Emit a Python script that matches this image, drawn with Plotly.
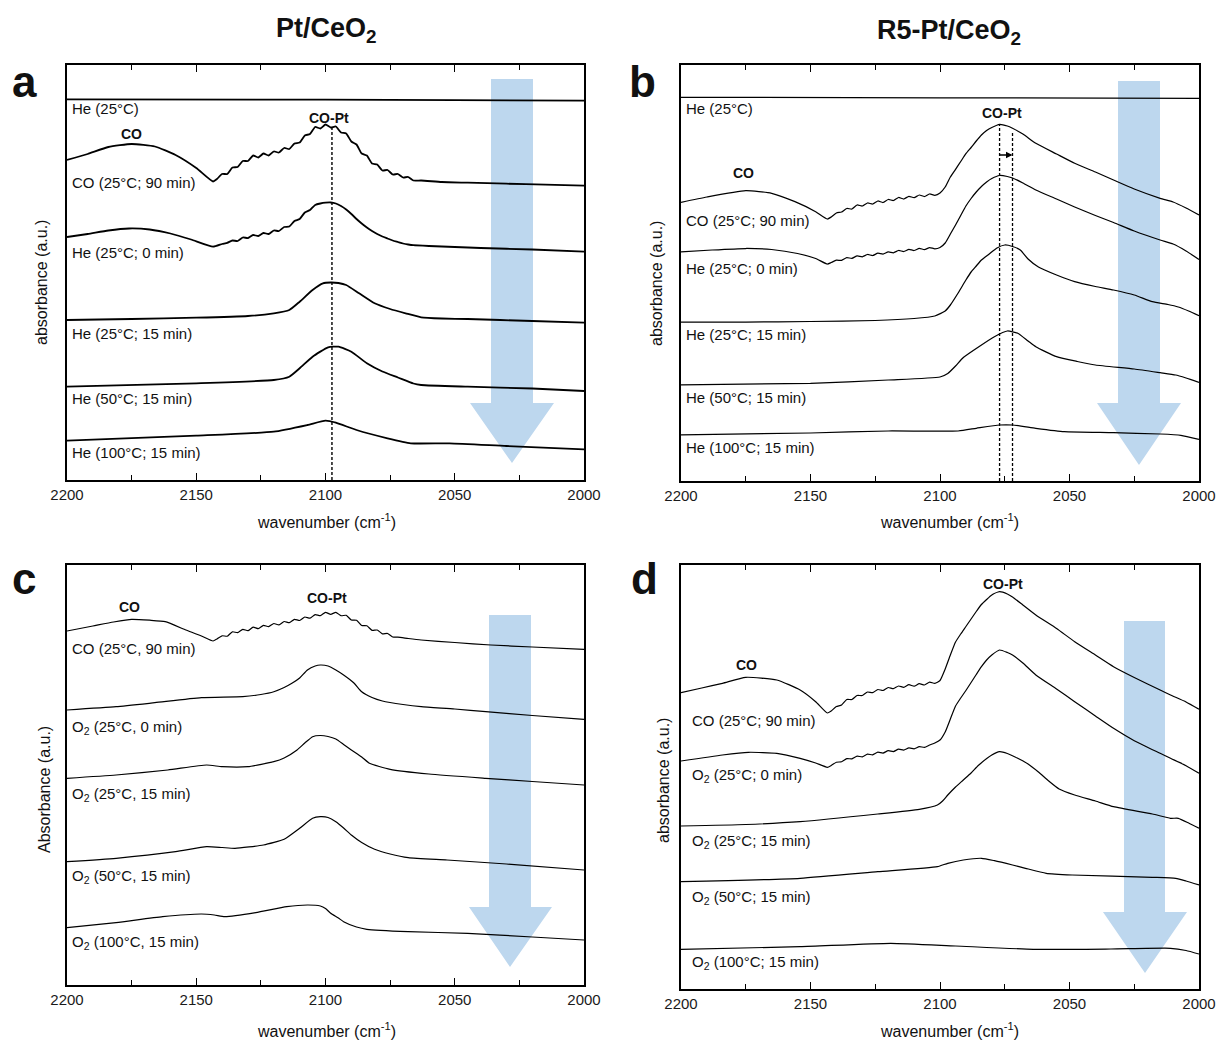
import plotly.graph_objects as go

W, H = 1218, 1040
FONT = "Liberation Sans, Arial, Helvetica, sans-serif"

# ---------------- data (wavenumber in cm-1, absorbance in a.u. incl. stacking offset) ----------------
WIG_A2 = list(range(2142, 2065, -2))
WIG_A3 = list(range(2136, 2065, -2))
WIG_B = list(range(2142, 2099, -2))
WIG_C1 = list(range(2142, 2071, -2))
WIG_D1 = list(range(2142, 2101, -2))
WIG_D2 = list(range(2142, 2105, -2))

# panel a : Pt/CeO2, He purge
A_LABELS = ["He (25°C)", "CO (25°C; 90 min)", "He (25°C; 0 min)",
            "He (25°C; 15 min)", "He (50°C; 15 min)", "He (100°C; 15 min)"]
A1_WN = [2200, 2100, 2050, 2000]
A1_Y = [900.7, 900.3, 899.8, 899.3]
A2_WN = [2200, 2192, 2184, 2175, 2166, 2158, 2150, 2143.5] + WIG_A2 + [2063, 2055, 2045, 2030, 2015, 2000]
A2_Y = [840, 846, 853, 856, 853.5, 845, 832, 818.5,
        821, 826, 826, 832.5, 833, 839, 839, 844.5, 842.5, 846.5,
        844.5, 848.5, 847.5, 852, 851, 856.5, 857.5, 864.5, 866, 873,
        871.5, 875.5, 872.5, 873.5, 867.5, 866.5, 858.5, 855.5, 846.5, 844.5,
        836.5, 835.5, 829.5, 830, 825.5, 826, 822.5, 823, 819.5,
        819.5, 818, 817.3, 816.3, 815.3, 814.3]
A3_WN = [2200, 2192, 2184, 2176, 2168, 2160, 2152, 2143.5, 2140, 2138] + WIG_A3 + [2060, 2050, 2040, 2020, 2000]
A3_Y = [763, 766, 769.5, 771.5, 770.5, 766.5, 760.5, 753.3, 756, 757.2,
        759.5, 759, 762.5, 762, 765, 764, 767, 766, 769.5, 769,
        773, 773.5, 779, 781, 787.5, 790, 795, 796.5, 797.3, 797.5,
        796.5, 794, 790.5, 786, 781, 776.5, 772.5, 769, 766, 763.5,
        761.5, 759.5, 758, 756.5, 755.5, 754.8,
        754, 753, 752, 750.5, 748.3]
A4_WN = [2200, 2175, 2150, 2130, 2120, 2114, 2110, 2105, 2101, 2098, 2095, 2092, 2087, 2081,
         2075, 2069, 2063, 2055, 2045, 2020, 2000]
A4_Y = [680, 681, 682.3, 684, 686.7, 690, 698.3, 710, 716.7, 717.5, 717, 715, 706.7, 696.7,
        691, 686.7, 682.7, 681.5, 681, 679, 677.3]
A5_WN = [2200, 2150, 2120, 2114, 2110, 2105, 2099, 2095, 2090, 2084, 2078, 2072, 2066, 2063,
         2045, 2020, 2000]
A5_Y = [613.3, 616.7, 620, 623.3, 631.7, 643.3, 652.7, 653.3, 648.3, 636.7, 628.5, 622.5, 616.5, 615,
        613.3, 611.5, 609]
A6_WN = [2200, 2150, 2120, 2107, 2100, 2096, 2088, 2076, 2067, 2052, 2030, 2000]
A6_Y = [559.3, 564.3, 568.3, 575, 579.3, 577.3, 570, 561.7, 556.7, 556.7, 554, 550.7]
A_PEAK_WN = 2097.5
A_PEAK_TOP = 872

# panel b : R5-Pt/CeO2, He purge
B_LABELS = ["He (25°C)", "CO (25°C; 90 min)", "He (25°C; 0 min)",
            "He (25°C; 15 min)", "He (50°C; 15 min)", "He (100°C; 15 min)"]
B1_WN = [2200, 2100, 2000]
B1_Y = [902.7, 902.2, 901.7]
B2_WN = [2200, 2190, 2175, 2165, 2156, 2148, 2143.5] + WIG_B + [
    2098, 2096, 2094, 2092, 2090, 2088, 2086, 2084, 2082, 2080, 2077, 2074, 2072, 2068, 2063,
    2055, 2048, 2040, 2033, 2025, 2015, 2010, 2005, 2000]
B2_Y = [797.7, 803, 809.3, 806.7, 798.3, 788.3, 781,
        783, 787, 788, 791.5, 791, 795, 794, 797, 796, 799,
        797.5, 800.5, 799.5, 802.5, 801, 803.7, 802.3, 805, 803.5, 806,
        804.7, 807,
        813, 823, 830.7, 838.5, 846.3, 852.5, 859, 865, 869.5, 872.5, 875.7, 874, 871.7, 866, 856.7,
        846, 836.7, 828, 820, 811, 801.7, 798, 792, 785]
B3_WN = [2200, 2188, 2175, 2165, 2155, 2148, 2143.5] + WIG_B + [
    2098, 2096, 2094, 2092, 2090, 2088, 2086, 2084, 2082, 2080, 2077, 2074, 2072, 2068, 2063,
    2055, 2048, 2040, 2033, 2025, 2015, 2010, 2005, 2000]
B3_Y = [748, 750, 751.5, 750.5, 746.5, 741.5, 736,
        737.5, 739.8, 739.7, 742.3, 741.7, 744.1, 743.2, 745.5, 744.5, 746.8,
        745.9, 748.1, 747.2, 749.5, 748.5, 750.6, 749.5, 751.6, 750.4, 752.4,
        751.2, 752.5,
        757, 766, 775, 784.5, 794, 801.5, 808, 813.5, 818, 821.5, 824.5, 823.5, 822, 817, 810,
        801, 793, 784.5, 777.5, 769, 760, 756, 749, 740.5]
B4_WN = [2200, 2175, 2150, 2125, 2110, 2102, 2098, 2096, 2093, 2090, 2088, 2086, 2084, 2081, 2078,
         2075, 2072, 2069, 2066, 2062, 2055, 2048, 2040, 2033, 2025, 2018, 2012, 2008, 2004, 2000]
B4_Y = [678, 678, 678.5, 679.5, 681.5, 684, 689, 695, 707, 720, 728, 734, 740, 746, 752,
        755, 753.5, 750, 741, 733, 725, 718.3, 713.5, 710, 705, 698.3, 695.5, 693, 689, 684.3]
B5_WN = [2200, 2150, 2120, 2100, 2097, 2094, 2091, 2085, 2079, 2074, 2070, 2066, 2063, 2055,
         2047, 2040, 2025, 2015, 2009, 2005, 2000]
B5_Y = [615, 616.7, 620, 623, 626.5, 634, 642.5, 653.3, 663.3, 669, 666.7, 659, 653.3, 643.3,
        638.5, 635, 631, 627.3, 625, 622, 617.7]
B6_WN = [2200, 2150, 2120, 2093, 2086, 2077, 2072, 2063, 2052, 2033, 2015, 2007, 2000]
B6_Y = [565, 567, 569, 569, 571.7, 575, 575, 571.7, 568.3, 567.3, 566, 564.7, 560.7]
B_PEAK_WN = [2077, 2072]
B_PEAK_TOP = [876, 868]
B_SHIFT_Y = 845

# panel c : Pt/CeO2, O2 exposure
C_LABELS = ["CO (25°C, 90 min)", "O<sub>2</sub> (25°C, 0 min)", "O<sub>2</sub> (25°C, 15 min)",
            "O<sub>2</sub> (50°C, 15 min)", "O<sub>2</sub> (100°C, 15 min)"]
C1_WN = [2200, 2190, 2182, 2175, 2168, 2162, 2154, 2148, 2143.5] + WIG_C1 + [2068, 2063, 2050, 2036, 2020, 2000]
C1_Y = [369, 374, 378, 380.7, 379.8, 378.3, 370, 364, 359,
        361, 364.2, 363.8, 368.2, 367.3, 370.7, 369.3, 372.9, 371.3, 374.7,
        373.3, 376.5, 375.1, 378.5, 377.3, 380.7, 379.5, 383, 381.8, 385.4,
        384.3, 387.7, 385.6, 387.7, 384.3, 384.7, 380, 379.7, 374.5, 374.2,
        369.6, 370, 366.2, 366.5, 363, 362.8,
        361.5, 360, 357.5, 355, 353, 350.7]
C2_WN = [2200, 2181, 2166, 2148, 2132, 2125, 2120, 2116, 2113, 2110, 2107, 2104, 2102, 2099, 2096,
         2093, 2089, 2086, 2082, 2078, 2070, 2063, 2050, 2038, 2020, 2000]
C2_Y = [290, 293.3, 297.3, 302.3, 303.3, 305.5, 308.3, 312.5, 316.7, 322, 330, 334, 335, 334, 330,
        325, 317, 308.3, 302.5, 299, 295.5, 293.3, 291, 288.3, 284.5, 280.7]
C3_WN = [2200, 2181, 2161, 2146, 2140, 2130, 2120, 2116, 2111, 2108, 2105, 2102, 2099, 2096, 2093,
         2090, 2086, 2083, 2075, 2060, 2038, 2020, 2000]
C3_Y = [221.7, 225, 230, 235, 233.3, 233.3, 238.3, 242, 250, 257, 263.3, 264.5, 263.5, 261, 255.5,
        250, 243, 236.7, 230.7, 226, 221.7, 218.5, 215]
C4_WN = [2200, 2181, 2158, 2146, 2140, 2135, 2124, 2116, 2110, 2105, 2102, 2099, 2096, 2093, 2090,
         2086, 2081, 2075, 2068, 2053, 2030, 2000]
C4_Y = [138.3, 141.7, 148.3, 153.3, 152.5, 151.7, 155, 160.7, 171.7, 181.7, 183.3, 182.5, 178.3, 172, 165,
        157.5, 150.7, 146, 142.3, 140, 136, 130]
C5_WN = [2200, 2181, 2163, 2148, 2143, 2139, 2127, 2115, 2107, 2102, 2100, 2098, 2095, 2093, 2088,
         2084, 2068, 2045, 2020, 2000]
C5_Y = [72.3, 77.3, 83.3, 86, 85, 83.3, 87.3, 93.3, 95, 94, 91.5, 86.7, 82, 78.3, 73,
        70.7, 68.3, 66.7, 63, 60]

# panel d : R5-Pt/CeO2, O2 exposure
D_LABELS = ["CO (25°C; 90 min)", "O<sub>2</sub> (25°C; 0 min)", "O<sub>2</sub> (25°C; 15 min)",
            "O<sub>2</sub> (50°C; 15 min)", "O<sub>2</sub> (100°C; 15 min)"]
D1_WN = [2200, 2192, 2184, 2175, 2163, 2154, 2148, 2143.5] + WIG_D1 + [
    2100, 2098, 2096, 2094, 2092, 2090, 2088, 2086, 2084, 2082, 2080, 2077, 2074, 2072, 2068, 2063,
    2055, 2048, 2040, 2033, 2025, 2015, 2011, 2005, 2000]
D1_Y = [307.3, 312, 316.7, 322.7, 320, 310, 298.3, 287,
        289, 293.5, 295, 300.5, 300.5, 304.5, 304.5, 308, 307.3, 310.5,
        309.5, 312.5, 311.3, 314, 312.7, 315.3, 313.8, 316.3, 315, 317.8,
        316.7,
        319.5, 331, 345, 358, 366, 373.5, 381, 388.5, 395.5, 400.5, 405, 408.3, 406, 403, 395, 385,
        371.5, 358.3, 345, 333.3, 322.5, 310, 305, 298, 290.7]
D2_WN = [2200, 2184, 2174, 2163, 2154, 2148, 2143.5] + WIG_D2 + [
    2104, 2102, 2100, 2098, 2096, 2094, 2092, 2090, 2088, 2086, 2084, 2082, 2080, 2077, 2074, 2072,
    2068, 2063, 2055, 2048, 2040, 2033, 2025, 2015, 2011, 2005, 2000]
D2_Y = [239, 245, 247.7, 246.7, 241.7, 237, 232.7,
        234.5, 237.8, 238.2, 241.3, 241.2, 243.8, 243.2, 245.8, 245.2, 247.8,
        246.9, 249.3, 248.4, 250.8, 249.9, 252.1, 251.2, 253.3, 252.7,
        255, 257, 260, 268, 281, 294, 302, 309.5, 317.5, 325.5, 333.3, 340, 345, 350, 347.5, 345,
        337, 325, 311, 298.3, 284, 271.7, 259.3, 246.7, 241.7, 234.3, 226.7]
D3_WN = [2200, 2175, 2154, 2124, 2108, 2101, 2099, 2097, 2094, 2091, 2088, 2085, 2080, 2077, 2074,
         2071, 2066, 2062, 2058, 2054, 2048, 2040, 2033, 2018, 2011, 2008, 2004, 2000]
D3_Y = [174, 175.5, 178.3, 186, 190.7, 195, 199, 205, 213, 220, 227, 235, 245, 248.3, 246.5,
        243, 236, 228, 219, 211, 205, 199, 193.3, 186, 181.7, 181.7, 177, 171.7]
D4_WN = [2200, 2154, 2124, 2101, 2097, 2091, 2084, 2079, 2072, 2067, 2059, 2049, 2018, 2009, 2005, 2000]
D4_Y = [118.3, 121.7, 128.3, 133.3, 136.7, 140, 141.7, 139.3, 135, 131.7, 126.7, 125, 122.7, 121.7, 119, 115]
D5_WN = [2200, 2154, 2119, 2094, 2064, 2034, 2011, 2005, 2000]
D5_Y = [50.7, 53.3, 56.7, 54, 50.7, 51, 51.7, 49.5, 46]

TICK_VALS = [2200, 2150, 2100, 2050, 2000]
MINOR_VALS = [2175, 2125, 2075, 2025]

# ---------------- layout helpers (pixel -> paper) ----------------
def px(x):
    return x / W


def py(y):
    return 1 - y / H


PANELS = {
    # name: (x-axis id, y-axis id, left, right, top, bottom (pixels), y-range)
    "a": ("x", "y", 67, 584, 65, 480, [520, 935]),
    "b": ("x2", "y2", 681, 1199, 65, 481, [519, 935]),
    "c": ("x3", "y3", 67, 584, 565, 985, [15, 435]),
    "d": ("x4", "y4", 681, 1199, 565, 989, [11, 435]),
}

fig = go.Figure()

SERIES = {
    "a": [(A1_WN, A1_Y), (A2_WN, A2_Y), (A3_WN, A3_Y), (A4_WN, A4_Y), (A5_WN, A5_Y), (A6_WN, A6_Y)],
    "b": [(B1_WN, B1_Y), (B2_WN, B2_Y), (B3_WN, B3_Y), (B4_WN, B4_Y), (B5_WN, B5_Y), (B6_WN, B6_Y)],
    "c": [(C1_WN, C1_Y), (C2_WN, C2_Y), (C3_WN, C3_Y), (C4_WN, C4_Y), (C5_WN, C5_Y)],
    "d": [(D1_WN, D1_Y), (D2_WN, D2_Y), (D3_WN, D3_Y), (D4_WN, D4_Y), (D5_WN, D5_Y)],
}
LABELS = {"a": A_LABELS, "b": B_LABELS, "c": C_LABELS, "d": D_LABELS}
LW = {"a": 1.8, "b": 1.25, "c": 1.2, "d": 1.2}

for key, series in SERIES.items():
    xa, ya = PANELS[key][0], PANELS[key][1]
    for (wn, yv), name in zip(series, LABELS[key]):
        fig.add_trace(go.Scatter(x=wn, y=yv, mode="lines", name=name, showlegend=False,
                                 line=dict(color="black", width=LW[key], shape="spline", smoothing=0.5),
                                 xaxis=xa, yaxis=ya, hoverinfo="skip"))

# dashed CO-Pt peak markers
fig.add_trace(go.Scatter(x=[A_PEAK_WN, A_PEAK_WN], y=[PANELS["a"][6][0], A_PEAK_TOP], mode="lines",
                         line=dict(color="black", width=1.4, dash="3px,2px"), xaxis="x", yaxis="y",
                         showlegend=False, hoverinfo="skip"))
for wn, top in zip(B_PEAK_WN, B_PEAK_TOP):
    fig.add_trace(go.Scatter(x=[wn, wn], y=[PANELS["b"][6][0], top], mode="lines",
                             line=dict(color="black", width=1.3, dash="3px,2px"), xaxis="x2", yaxis="y2",
                             showlegend=False, hoverinfo="skip"))

layout_axes = {}
for key, (xa, ya, l, r, t, b, yr) in PANELS.items():
    xname = "xaxis" + xa[1:]
    yname = "yaxis" + ya[1:]
    layout_axes[xname] = dict(
        domain=[px(l), px(r)], range=[2200, 2000], anchor=ya, automargin=False,
        showline=True, mirror="ticks", linecolor="black", linewidth=1.6,
        ticks="inside", ticklen=7, tickwidth=1.3, tickcolor="black",
        tickvals=TICK_VALS, ticktext=[str(v) for v in TICK_VALS],
        tickfont=dict(family=FONT, size=15, color="#1a1a1a"),
        minor=dict(tickvals=MINOR_VALS, ticks="inside", ticklen=5, tickwidth=1.3, tickcolor="black",
                   showgrid=False),
        showgrid=False, zeroline=False, fixedrange=True,
    )
    layout_axes[yname] = dict(
        domain=[py(b), py(t)], range=yr, anchor=xa, automargin=False,
        showline=True, mirror=True, linecolor="black", linewidth=1.6,
        showticklabels=False, ticks="", showgrid=False, zeroline=False, fixedrange=True,
    )

# ---------------- big blue arrows (pixel outlines) ----------------
ARROWS = [
    # bar left, bar right, head left, head right, tip x, top y, head base y, tip y
    (491, 533, 470, 554, 512, 79, 403, 463),
    (1118, 1160, 1097, 1181, 1139, 81, 403, 465),
    (489, 531, 469, 552, 510, 615, 907, 967),
    (1124, 1165, 1103, 1187, 1145, 621, 912, 973),
]
shapes = []
for bl, br, hl, hr, tx, ty, hy, tipy in ARROWS:
    pts = [(bl, ty), (br, ty), (br, hy), (hr, hy), (tx, tipy), (hl, hy), (bl, hy)]
    path = "M " + " L ".join(f"{px(x):.5f},{py(y):.5f}" for x, y in pts) + " Z"
    shapes.append(dict(type="path", path=path, xref="paper", yref="paper",
                       fillcolor="#bdd7ee", line=dict(width=0), layer="below"))

# ---------------- text annotations ----------------
ann = []


def text(x, y, s, size=15, bold=False, xanchor="left", yanchor="middle", angle=0):
    ann.append(dict(x=px(x), y=py(y), xref="paper", yref="paper", text=(f"<b>{s}</b>" if bold else s),
                    showarrow=False, xanchor=xanchor, yanchor=yanchor, textangle=angle,
                    font=dict(family=FONT, size=size, color="#111111")))


LABEL_POS = {
    "a": (70, [109, 182, 252, 333, 399, 452]),
    "b": (684, [109, 220, 268, 335, 397, 447]),
    "c": (70, [648, 727, 794, 876, 942]),
    "d": (690, [720, 775, 841, 897, 962]),
}
for key, (lx, ys) in LABEL_POS.items():
    for s, yy in zip(LABELS[key], ys):
        text(lx, yy, s, size=15)

# band labels
text(131, 134, "CO", size=14, bold=True, xanchor="center")
text(329, 118, "CO-Pt", size=14, bold=True, xanchor="center")
text(743, 173, "CO", size=14, bold=True, xanchor="center")
text(1002, 113, "CO-Pt", size=14, bold=True, xanchor="center")
text(129, 607, "CO", size=14, bold=True, xanchor="center")
text(327, 598, "CO-Pt", size=14, bold=True, xanchor="center")
text(746, 665, "CO", size=14, bold=True, xanchor="center")
text(1003, 584, "CO-Pt", size=14, bold=True, xanchor="center")

# axis titles
for cx, cy in [(326, 521), (949, 521), (326, 1030), (949, 1030)]:
    text(cx, cy, "wavenumber (cm<sup>-1</sup>)", size=16, xanchor="center")
text(42, 283, "absorbance (a.u.)", size=16, xanchor="center", angle=-90)
text(657, 283, "absorbance (a.u.)", size=16, xanchor="center", angle=-90)
text(44, 790, "Absorbance (a.u.)", size=16, xanchor="center", angle=-90)
text(663, 780, "absorbance (a.u.)", size=16, xanchor="center", angle=-90)

# column titles and panel letters
text(326, 30, "Pt/CeO<sub>2</sub>", size=27, bold=True, xanchor="center")
text(949, 32, "R5-Pt/CeO<sub>2</sub>", size=27, bold=True, xanchor="center")
text(24, 82, "a", size=44, bold=True, xanchor="center")
text(642, 82, "b", size=44, bold=True, xanchor="center")
text(24, 578, "c", size=44, bold=True, xanchor="center")
text(644, 578, "d", size=44, bold=True, xanchor="center")

# small shift arrow in panel b
ann.append(dict(x=B_PEAK_WN[1], y=B_SHIFT_Y, ax=B_PEAK_WN[0] + 0.5, ay=B_SHIFT_Y,
                xref="x2", yref="y2", axref="x2", ayref="y2", text="", showarrow=True,
                arrowhead=2, arrowsize=1, arrowwidth=1.3, arrowcolor="black"))

fig.update_layout(
    width=W, height=H, margin=dict(l=0, r=0, t=0, b=0, pad=0, autoexpand=False),
    paper_bgcolor="white", plot_bgcolor="rgba(0,0,0,0)",
    showlegend=False, shapes=shapes, annotations=ann,
    font=dict(family=FONT, color="#111111"),
    **layout_axes,
)

fig.write_html("out.html", config={"displayModeBar": False},
               post_script="document.body.style.margin='0';document.body.style.overflow='hidden';")
